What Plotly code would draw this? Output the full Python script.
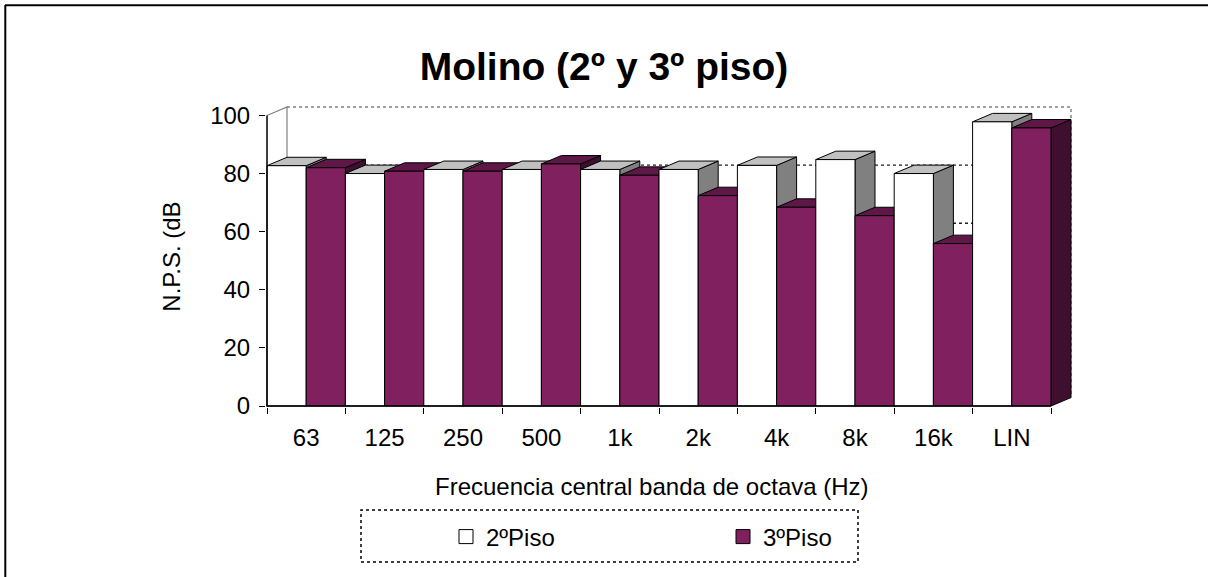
import plotly.graph_objects as go

# ---------------- data ----------------
categories = ["63", "125", "250", "500", "1k", "2k", "4k", "8k", "16k", "LIN"]
piso2 = [82.7, 80.0, 81.4, 81.4, 81.4, 81.4, 82.8, 84.8, 80.0, 97.8]
piso3 = [82.0, 80.8, 80.8, 83.3, 79.4, 72.4, 68.4, 65.5, 55.9, 95.7]
series_names = ["2ºPiso", "3ºPiso"]
y_ticks = [0, 20, 40, 60, 80, 100]

# ---------------- style ----------------
FONT = "Liberation Sans, Arial, sans-serif"
W, H = 1208, 577
L, R, T, B = 266, 136, 106, 170
DX, DY = 0.255, 2.9      # 3-D depth offset (x in category units, y in dB)
BW = 0.5                 # bar width in category units
ncat = len(categories)
XR = [-0.0128, ncat + DX + 0.0128]
YR = [-0.344, 100 + DY + 0.344]

colors = {
    0: dict(front="#FFFFFF", top="#C0C0C0", side="#808080"),
    1: dict(front="#80205F", top="#5E1746", side="#3E0F2E"),
}

pw = W - L - R
ph = H - T - B


def px_x(px):
    return (px - L) / pw


def px_y(py):
    return (H - B - py) / ph


fig = go.Figure()

# ---- walls / gridlines ----
def line(xs, ys, color, dash="solid", width=1):
    fig.add_trace(go.Scatter(x=xs, y=ys, mode="lines", hoverinfo="skip",
                             showlegend=False,
                             line=dict(color=color, width=width, dash=dash)))

for v in y_ticks[1:-1]:
    line([DX, ncat + DX], [v + DY, v + DY], "#202020", "dot", 1.3)
# back wall border
line([DX, ncat + DX, ncat + DX], [100 + DY, 100 + DY, DY], "#808080", "dot", 1.5)
# left wall
line([0, DX, DX], [100, 100 + DY, DY], "#808080", "solid", 1.2)

# ---- bars (side, top, front per bar, left to right) ----
values = [piso2, piso3]


def poly(pts, fill):
    fig.add_trace(go.Scatter(
        x=[p[0] for p in pts] + [pts[0][0]],
        y=[p[1] for p in pts] + [pts[0][1]],
        mode="lines", fill="toself", fillcolor=fill,
        line=dict(color="black", width=1), hoverinfo="skip",
        showlegend=False))


for i in range(ncat):
    for k in (0, 1):
        h = values[k][i]
        x0 = i + k * BW
        x1 = x0 + BW
        c = colors[k]
        poly([(x1, 0), (x1 + DX, DY), (x1 + DX, h + DY), (x1, h)], c["side"])
        poly([(x0, h), (x1, h), (x1 + DX, h + DY), (x0 + DX, h + DY)], c["top"])
        poly([(x0, 0), (x1, 0), (x1, h), (x0, h)], c["front"])

# front axis lines
line([0, 0, ncat], [100, 0, 0], "black", "solid", 1.5)

# ---- legend dummies ----
for k in (0, 1):
    fig.add_trace(go.Scatter(
        x=[None], y=[None], mode="markers", name=series_names[k],
        marker=dict(symbol="square", size=14, color=colors[k]["front"],
                    line=dict(color="black", width=1))))

fig.update_layout(
    width=W, height=H,
    margin=dict(l=L, r=R, t=T, b=B),
    paper_bgcolor="white", plot_bgcolor="white",
    font=dict(family=FONT, size=24, color="black"),
    title=dict(text="<b>Molino (2º y 3º piso)</b>",
               font=dict(family=FONT, size=39, color="black"),
               x=0.5, xref="container", xanchor="center",
               y=1 - 66 / H, yref="container", yanchor="middle"),
    showlegend=True,
    legend=dict(orientation="h", xref="container", yref="container",
                x=446 / W, xanchor="left", y=1 - 537 / H, yanchor="middle",
                bgcolor="rgba(0,0,0,0)", font=dict(size=24),
                entrywidth=232, entrywidthmode="pixels", itemclick=False),
    xaxis=dict(range=XR, tickvals=[i + 0.5 for i in range(ncat)],
               ticktext=categories, ticks="", showgrid=False, zeroline=False,
               showline=False, ticklabelstandoff=14,
               minor=dict(tickvals=list(range(ncat + 1)), ticks="outside",
                          ticklen=6, tickcolor="black", tickwidth=1,
                          showgrid=False)),
    yaxis=dict(range=YR, tickvals=y_ticks, ticks="outside", ticklen=6,
               tickcolor="black", showgrid=False, zeroline=False,
               showline=False, ticklabelstandoff=4,
               title=dict(text="N.P.S. (dB", font=dict(size=24), standoff=22)),
    annotations=[dict(text="Frecuencia central banda de octava (Hz)",
                      xref="paper", yref="paper", x=px_x(652), y=px_y(486),
                      xanchor="center", yanchor="middle", showarrow=False,
                      font=dict(size=24))],
    shapes=[
        dict(type="rect", xref="paper", yref="paper",
             x0=px_x(361), x1=px_x(858), y0=px_y(562), y1=px_y(510),
             line=dict(color="black", width=1.5, dash="dot")),
        dict(type="line", xref="paper", yref="paper",
             x0=px_x(5), x1=px_x(1215), y0=px_y(5.3), y1=px_y(5.3),
             line=dict(color="black", width=2)),
        dict(type="line", xref="paper", yref="paper",
             x0=px_x(5.3), x1=px_x(5.3), y0=px_y(5), y1=px_y(585),
             line=dict(color="black", width=2)),
    ],
)

fig.write_html("out.html")
